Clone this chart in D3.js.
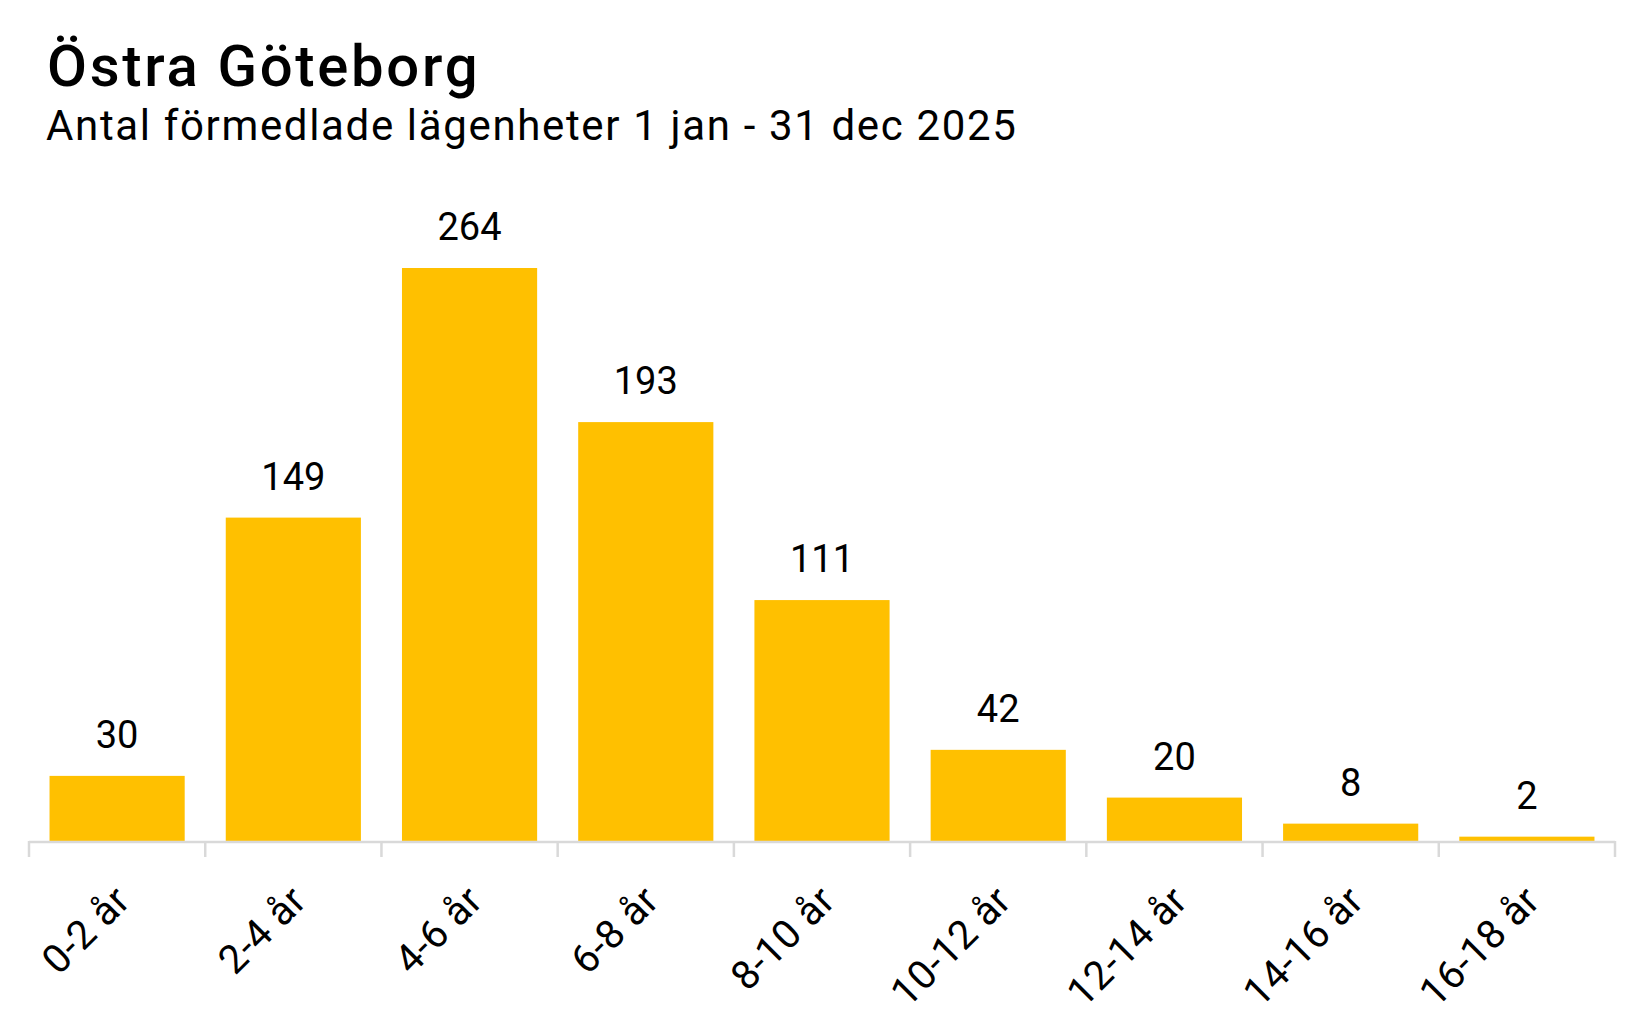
<!DOCTYPE html>
<html>
<head>
<meta charset="utf-8">
<script src="https://cdn.jsdelivr.net/npm/d3@7"></script>
<style>
  html, body { margin: 0; padding: 0; background: #fff; }
  svg { display: block; font-family: Roboto, "Noto Sans", sans-serif; }
</style>
</head>
<body>
<svg id="chart" width="1648" height="1019"></svg>
<script>
const titleText = "Östra Göteborg";
const subtitleText = "Antal förmedlade lägenheter 1 jan - 31 dec 2025";
const categories = ["0-2 år", "2-4 år", "4-6 år", "6-8 år", "8-10 år", "10-12 år", "12-14 år", "14-16 år", "16-18 år"];
const values = [30, 149, 264, 193, 111, 42, 20, 8, 2];

const svg = d3.select("#chart");
const left = 29, right = 1615, baseY = 841, topY = 268;

const x = d3.scaleBand().domain(categories).range([left, right]).paddingInner(0.233).paddingOuter(0.1165);
const y = d3.scaleLinear().domain([0, d3.max(values)]).range([baseY, topY]);

svg.append("text").attr("x", 47).attr("y", 86)
  .attr("font-size", 58).attr("font-weight", 500).attr("letter-spacing", 2.7).attr("fill", "#000")
  .text(titleText);
svg.append("text").attr("x", 46).attr("y", 140)
  .attr("font-size", 42).attr("font-weight", 400).attr("letter-spacing", 1.65).attr("fill", "#000")
  .text(subtitleText);

const data = categories.map((c, i) => ({c, v: values[i]}));

svg.append("g").selectAll("rect").data(data).join("rect")
  .attr("x", d => x(d.c)).attr("width", x.bandwidth())
  .attr("y", d => y(d.v)).attr("height", d => baseY - y(d.v))
  .attr("fill", "#FFC000");

svg.append("g").selectAll("text").data(data).join("text")
  .attr("x", d => x(d.c) + x.bandwidth() / 2)
  .attr("y", d => y(d.v) - 28)
  .attr("text-anchor", "middle")
  .attr("font-size", 38).attr("fill", "#000")
  .text(d => d.v);

// axis
const xAxisScale = d3.scalePoint().domain(d3.range(categories.length + 1)).range([left, right]);
const axisG = svg.append("g");
axisG.append("line").attr("x1", left).attr("x2", right).attr("y1", baseY + 1).attr("y2", baseY + 1)
  .attr("stroke", "#D9D9D9").attr("stroke-width", 2.5);
axisG.selectAll("line.tick").data(xAxisScale.domain()).join("line").attr("class", "tick")
  .attr("x1", d => xAxisScale(d)).attr("x2", d => xAxisScale(d))
  .attr("y1", baseY).attr("y2", baseY + 16)
  .attr("stroke", "#D9D9D9").attr("stroke-width", 2.5);

svg.append("g").selectAll("text").data(categories).join("text")
  .attr("transform", d => `translate(${x(d) + x.bandwidth() / 2 + 15},${baseY + 62}) rotate(-45)`)
  .attr("text-anchor", "end")
  .attr("font-size", 40).attr("letter-spacing", 0.4).attr("fill", "#000")
  .text(d => d);
</script>
</body>
</html>
